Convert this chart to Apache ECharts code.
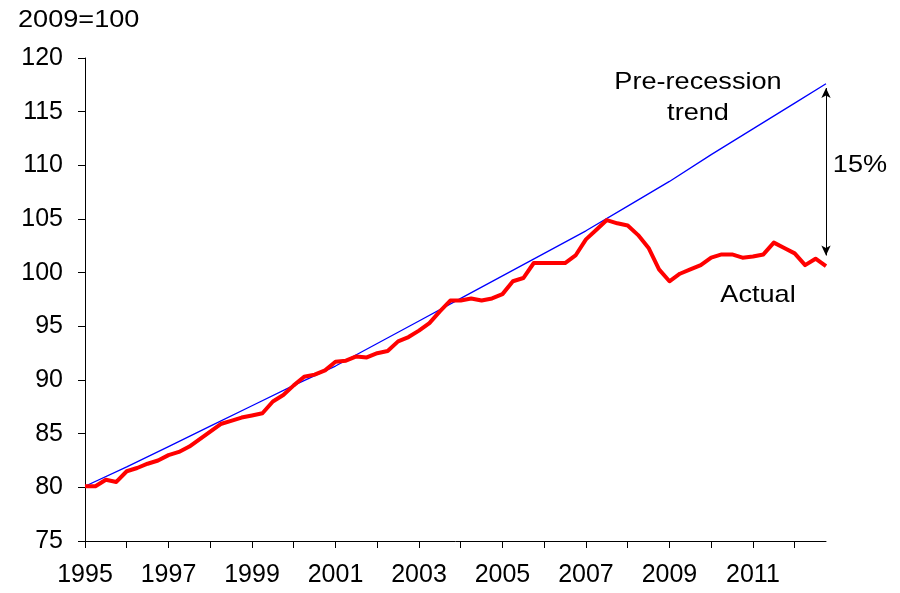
<!DOCTYPE html>
<html>
<head>
<meta charset="utf-8">
<script src="https://cdn.jsdelivr.net/npm/echarts@6/dist/echarts.min.js"></script>
<style>
  html, body { margin: 0; padding: 0; background: #fff; }
  #chart { width: 900px; height: 593px; }
</style>
</head>
<body>
<div id="chart"></div>
<script>
// quarterly categories 1995 Q1 .. 2012 Q4
var quarters = [
  '1995 Q1','1995 Q2','1995 Q3','1995 Q4','1996 Q1','1996 Q2','1996 Q3','1996 Q4',
  '1997 Q1','1997 Q2','1997 Q3','1997 Q4','1998 Q1','1998 Q2','1998 Q3','1998 Q4',
  '1999 Q1','1999 Q2','1999 Q3','1999 Q4','2000 Q1','2000 Q2','2000 Q3','2000 Q4',
  '2001 Q1','2001 Q2','2001 Q3','2001 Q4','2002 Q1','2002 Q2','2002 Q3','2002 Q4',
  '2003 Q1','2003 Q2','2003 Q3','2003 Q4','2004 Q1','2004 Q2','2004 Q3','2004 Q4',
  '2005 Q1','2005 Q2','2005 Q3','2005 Q4','2006 Q1','2006 Q2','2006 Q3','2006 Q4',
  '2007 Q1','2007 Q2','2007 Q3','2007 Q4','2008 Q1','2008 Q2','2008 Q3','2008 Q4',
  '2009 Q1','2009 Q2','2009 Q3','2009 Q4','2010 Q1','2010 Q2','2010 Q3','2010 Q4',
  '2011 Q1','2011 Q2','2011 Q3','2011 Q4','2012 Q1','2012 Q2','2012 Q3','2012 Q4'
]

// actual index, 2009=100
var actual = [
  80.1, 80.1, 80.7, 80.5, 81.5, 81.8, 82.2, 82.5,
  83.0, 83.3, 83.8, 84.5, 85.2, 85.9, 86.2, 86.5,
  86.7, 86.9, 88.0, 88.6, 89.5, 90.3, 90.5, 90.9,
  91.7, 91.8, 92.2, 92.1, 92.5, 92.7, 93.6, 94.0,
  94.6, 95.3, 96.4, 97.4, 97.4, 97.6, 97.4, 97.6,
  98.0, 99.2, 99.5, 100.9, 100.9, 100.9, 100.9, 101.6,
  103.1, 104.0, 104.9, 104.6, 104.4, 103.5, 102.3, 100.3,
  99.2, 99.9, 100.3, 100.7, 101.4, 101.7, 101.7, 101.4,
  101.5, 101.7, 102.8, 102.3, 101.8, 100.7, 101.3, 100.6
]

// pre-recession trend, read at the start of each year and at the last quarter
var trendQuarters = ['1995 Q1','1996 Q1','1997 Q1','1998 Q1','1999 Q1','2000 Q1','2001 Q1','2002 Q1','2003 Q1',
  '2004 Q1','2005 Q1','2006 Q1','2007 Q1','2008 Q1','2009 Q1','2010 Q1','2011 Q1','2012 Q1','2012 Q4']
var trendValues = [80.1, 81.9, 83.8, 85.7, 87.6, 89.5, 91.3, 93.4, 95.5,
  97.6, 99.7, 101.8, 103.9, 106.2, 108.5, 111.0, 113.4, 115.8, 117.6]

// the 15% gap arrow
var gapTop = 117.2
var gapBottom = 101.6

var trendData = trendQuarters.map(function (q, i) { return [q, trendValues[i]] })

var font = '"Liberation Sans", Arial, sans-serif'
var chart = echarts.init(document.getElementById('chart'))

// the original text is a little wider than plain Arial
function note(text, x, y, align) {
  return {
    type: 'text', x: x, y: y, scaleX: 1.13,
    style: { text: text, fontSize: 24, fill: '#000', fontFamily: font, align: align || 'center', verticalAlign: 'middle' }
  }
}

chart.setOption({
  animation: false,
  textStyle: { fontFamily: font },
  grid: { left: 85, right: 74, top: 58, bottom: 52 },
  xAxis: {
    type: 'category',
    data: quarters,
    boundaryGap: false,
    axisLine: { lineStyle: { color: '#000', width: 1 } },
    axisTick: { interval: 3, length: 7, lineStyle: { color: '#000' } },
    axisLabel: {
      interval: 7,
      margin: 22,
      fontSize: 25,
      color: '#000',
      fontFamily: font,
      formatter: function (v) { return v.slice(0, 4) }
    },
    splitLine: { show: false }
  },
  yAxis: {
    type: 'value',
    min: 75,
    max: 120,
    interval: 5,
    axisLine: { show: true, lineStyle: { color: '#000', width: 1 } },
    axisTick: { show: true, length: 7, lineStyle: { color: '#000' } },
    axisLabel: { margin: 22, fontSize: 25, color: '#000', fontFamily: font },
    splitLine: { show: false }
  },
  series: [
    {
      name: 'Pre-recession trend',
      type: 'line',
      data: trendData,
      symbol: 'none',
      lineStyle: { color: '#0000ff', width: 1.3 },
      z: 3,
      markLine: {
        silent: true,
        symbol: ['arrow', 'arrow'],
        symbolSize: [7, 10],
        label: { show: false },
        lineStyle: { color: '#000', width: 1, type: 'solid' },
        data: [[
          { coord: ['2012 Q4', gapTop] },
          { coord: ['2012 Q4', gapBottom] }
        ]]
      }
    },
    {
      name: 'Actual',
      type: 'line',
      data: actual,
      symbol: 'none',
      lineStyle: { color: '#ff0000', width: 4, join: 'round' },
      z: 4
    }
  ],
  graphic: [
    note('2009=100', 18, 20, 'left'),
    note('Pre-recession', 698, 82),
    note('trend', 698, 113),
    note('15%', 860, 165),
    note('Actual', 758, 295)
  ]
})
</script>
</body>
</html>
